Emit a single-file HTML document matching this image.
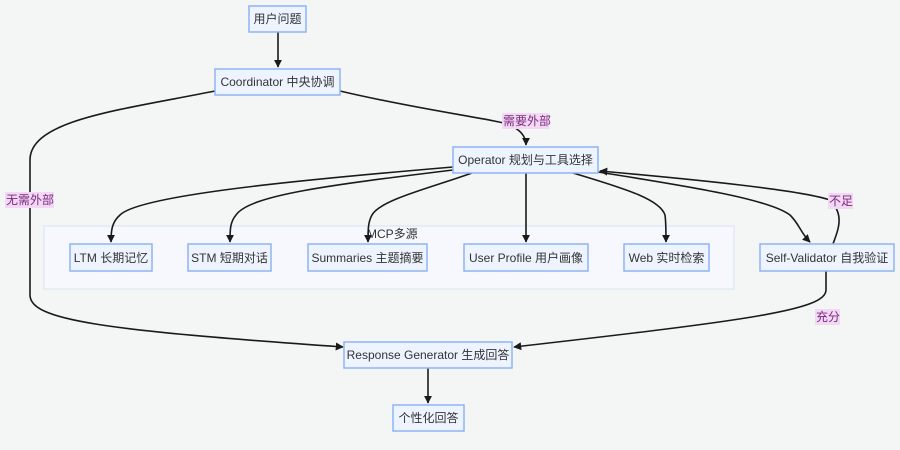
<!DOCTYPE html>
<html><head><meta charset="utf-8"><style>
html,body{margin:0;padding:0;background:#f4f6f6;}
svg{display:block;}
text{font-family:"Liberation Sans","Noto Sans CJK SC",sans-serif;font-size:12px;fill:#333;}
.n{fill:#eef4ff;stroke:#8fb4f4;stroke-width:1.5;}
.e{fill:none;stroke:#1a1a1a;stroke-width:1.6;}
.lb{fill:#f3d8f6;}
.lt{fill:#7a2a7a;}
</style></head><body>
<svg width="900" height="450" viewBox="0 0 900 450" xmlns="http://www.w3.org/2000/svg">
<defs><marker id="a" viewBox="0 0 10 10" refX="9" refY="5" markerWidth="8" markerHeight="8" orient="auto-start-reverse" markerUnits="userSpaceOnUse"><path d="M0,0L10,5L0,10z" fill="#1a1a1a"/></marker></defs>
<rect x="44" y="226" width="690" height="63" fill="#f6f8fe" stroke="#d8e2f6" stroke-width="1"/>
<text x="367" y="238" >MCP多源</text>
<!-- edges -->
<path class="e" d="M278,32 L278,67" marker-end="url(#a)"/>
<path class="e" d="M215,91 C120,110 30,120 30,160 L30,295 C30,320 100,330 343,347" marker-end="url(#a)"/>
<path class="e" d="M340,91 C420,110 500,120 510,125 C520,130 526,136 526,145" marker-end="url(#a)"/>
<path class="e" d="M453,167 C300,180 140,195 120,215 C112,222 111,230 111,242" marker-end="url(#a)"/>
<path class="e" d="M453,170 C330,185 250,195 236,215 C230,222 230,230 230,242" marker-end="url(#a)"/>
<path class="e" d="M472,173 C430,188 380,200 372,215 C368,222 368,230 368,242" marker-end="url(#a)"/>
<path class="e" d="M526,173 L526,242" marker-end="url(#a)"/>
<path class="e" d="M573,173 C630,190 660,200 665,215 C666,222 666,230 666,242" marker-end="url(#a)"/>
<path class="e" d="M598,172 C700,188 770,200 790,215 C800,225 800,232 810,242" marker-end="url(#a)"/>
<path class="e" d="M833,244 C838,230 845,215 830,200 C800,190 700,180 600,171" marker-end="url(#a)"/>
<path class="e" d="M826,271 L826,290 C826,310 750,320 514,347" marker-end="url(#a)"/>
<path class="e" d="M428,368 L428,403" marker-end="url(#a)"/>
<!-- edge labels -->
<rect class="lb" x="5" y="192" width="49" height="16"/><text class="lt" x="6" y="204">无需外部</text>
<rect class="lb" x="502" y="113" width="47" height="16"/><text class="lt" x="503" y="125">需要外部</text>
<rect class="lb" x="828" y="193" width="25" height="16"/><text class="lt" x="829" y="205">不足</text>
<rect class="lb" x="815" y="309" width="25" height="16"/><text class="lt" x="816" y="321">充分</text>
<!-- nodes -->
<rect class="n" x="249" y="6" width="57" height="26"/><text x="277.5" y="23" text-anchor="middle">用户问题</text>
<rect class="n" x="215" y="69" width="125" height="26"/><text x="277.5" y="86" text-anchor="middle">Coordinator 中央协调</text>
<rect class="n" x="453" y="147" width="145" height="26"/><text x="525.5" y="164" text-anchor="middle">Operator 规划与工具选择</text>
<rect class="n" x="70" y="244" width="82" height="27"/><text x="111" y="262" text-anchor="middle">LTM 长期记忆</text>
<rect class="n" x="188" y="244" width="83" height="27"/><text x="229.5" y="262" text-anchor="middle">STM 短期对话</text>
<rect class="n" x="308" y="244" width="119" height="27"/><text x="367.5" y="262" text-anchor="middle">Summaries 主题摘要</text>
<rect class="n" x="464" y="244" width="124" height="27"/><text x="526" y="262" text-anchor="middle">User Profile 用户画像</text>
<rect class="n" x="624" y="244" width="85" height="27"/><text x="666.5" y="262" text-anchor="middle">Web 实时检索</text>
<rect class="n" x="760" y="244" width="134" height="27"/><text x="827" y="262" text-anchor="middle">Self-Validator 自我验证</text>
<rect class="n" x="344" y="342" width="168" height="26"/><text x="428" y="359" text-anchor="middle">Response Generator 生成回答</text>
<rect class="n" x="393" y="405" width="71" height="26"/><text x="428.5" y="422" text-anchor="middle">个性化回答</text>
</svg>
</body></html>
